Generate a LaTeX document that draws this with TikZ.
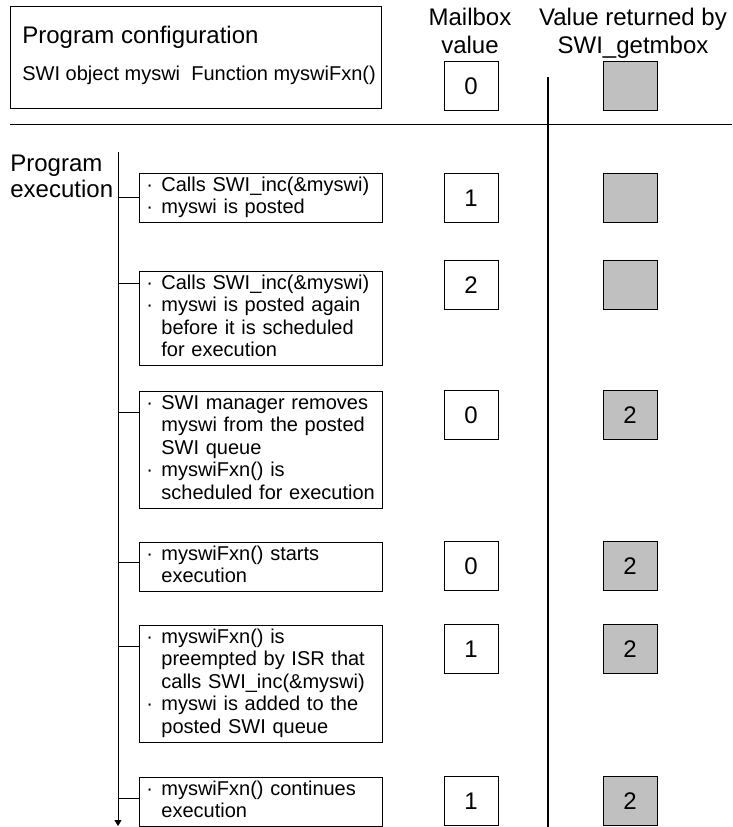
\documentclass[tikz,border=0pt]{standalone}
\usepackage{fontspec}
\setmainfont{Liberation Sans}
\usetikzlibrary{arrows.meta}
\definecolor{boxgray}{RGB}{192,192,192}
\newcommand{\bul}{\makebox[15pt][l]{·}}
\newcommand{\ind}{\hspace*{15pt}}

\begin{document}
\begin{tikzpicture}[x=1pt,y=-1pt,line width=0.8pt,
	bigtext/.style={font=\fontsize{24}{28}\selectfont, inner sep=0pt},
	steptext/.style={draw, anchor=north west, align=left, text width=229pt, inner xsep=7pt, inner ysep=2pt,
		font=\fontsize{20}{22.5}\selectfont, execute at begin node=\strut, execute at end node=\strut},
	valbox/.style={draw, minimum width=54pt, minimum height=49pt, inner sep=0pt, font=\fontsize{24}{28}\selectfont}]
	\useasboundingbox (0,0) rectangle (732,827);
	\node[draw, anchor=north west, minimum width=371pt, minimum height=102pt] (cfg) at (10,6) {};
	\node[bigtext, anchor=base west] (cfgtitle) at (22,43) {Program configuration};
	\node[font=\fontsize{20}{24}\selectfont, anchor=base west, inner sep=0pt] (cfgobj) at (22,80) {SWI object myswi~~Function myswiFxn()};
	\node[bigtext, align=center, anchor=north] (mbhead) at (470,8) {Mailbox\\value};
	\node[bigtext, align=center, anchor=north] (gvhead) at (633,8) {Value returned by\\SWI\_getmbox};
	\node[bigtext, font=\fontsize{24}{26}\selectfont, align=left, anchor=north west] (exechead) at (10,155) {Program\\execution};
	\draw (10,124) -- (732,124);
	\draw[line width=1.2pt] (548,77) -- (548,827);
	\coordinate (top) at (118,152);
	\coordinate (bot) at (118,826);
	\draw[-{Triangle[width=7pt,length=6pt]}] (top) -- (bot);
	\node[steptext] (ev1) at (139,173) {\bul Calls SWI\_inc(\&myswi)\\\bul myswi is posted};
	\node[steptext] (ev2) at (139,271) {\bul Calls SWI\_inc(\&myswi)\\\bul myswi is posted again\\\ind before it is scheduled\\\ind for execution};
	\node[steptext] (ev3) at (139,391) {\bul SWI manager removes\\\ind myswi from the posted\\\ind SWI queue\\\bul myswiFxn() is\\\ind scheduled for execution};
	\node[steptext] (ev4) at (139,542) {\bul myswiFxn() starts\\\ind execution};
	\node[steptext] (ev5) at (139,625) {\bul myswiFxn() is\\\ind preempted by ISR that\\\ind calls SWI\_inc(\&myswi)\\\bul myswi is added to the\\\ind posted SWI queue};
	\node[steptext] (ev6) at (139,777) {\bul myswiFxn() continues\\\ind execution};
	\foreach \i/\y in {1/197, 2/283, 3/412, 4/562, 5/646, 6/798}
	{\coordinate (c\i) at (118,\y);
	\draw (c\i) -- (c\i -| ev\i.west);}
	\foreach \y/\m/\g [count=\i from 0] in {86/0/{}, 198/1/{}, 285/2/{}, 415/0/2, 566/0/2, 649/1/2, 801/1/2}
	{\node[valbox] (mb\i) at (471,\y) {\m};
	\node[valbox, fill=boxgray] (gv\i) at (630,\y) {\g};}
\end{tikzpicture}
\end{document}
